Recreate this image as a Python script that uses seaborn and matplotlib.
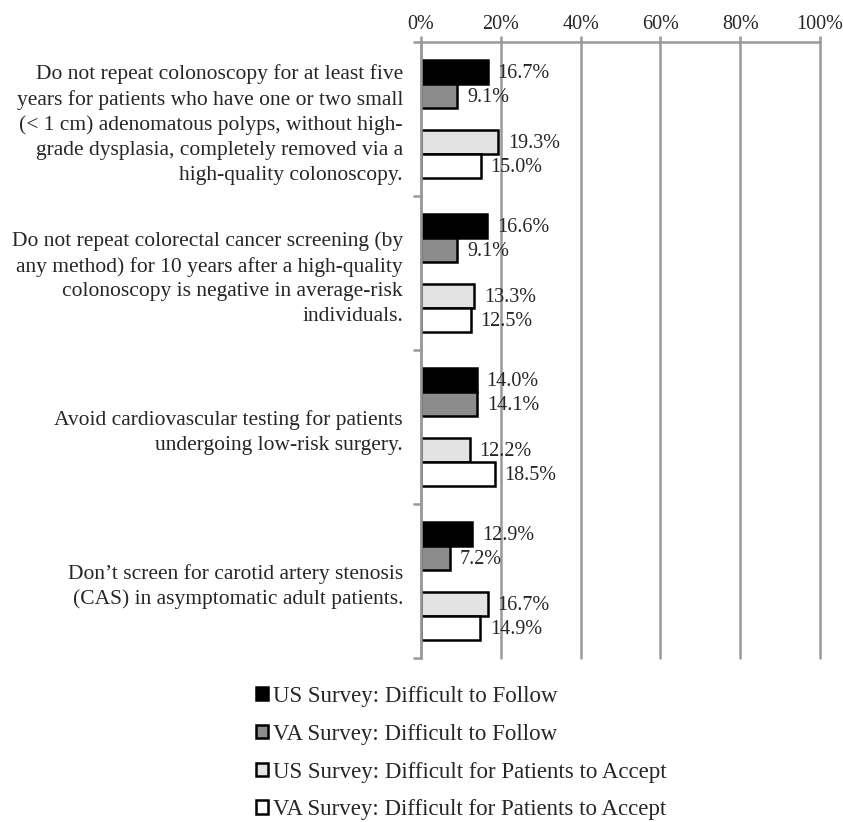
import pandas as pd
import numpy as np
import matplotlib.pyplot as plt
import matplotlib.ticker as mticker
import seaborn as sns

# Data
recommendations = [
    "Do not repeat colonoscopy for at least five\nyears for patients who have one or two small\n"
    "(< 1 cm) adenomatous polyps, without high-\ngrade dysplasia, completely removed via a\n"
    "high-quality colonoscopy.",
    "Do not repeat colorectal cancer screening (by\nany method) for 10 years after a high-quality\n"
    "colonoscopy is negative in average-risk\nindividuals.",
    "Avoid cardiovascular testing for patients\nundergoing low-risk surgery.",
    "Don\u2019t screen for carotid artery stenosis\n(CAS) in asymptomatic adult patients.",
]
series = [
    "US Survey: Difficult to Follow",
    "VA Survey: Difficult to Follow",
    "US Survey: Difficult for Patients to Accept",
    "VA Survey: Difficult for Patients to Accept",
]
us_follow = [16.7, 16.6, 14.0, 12.9]
va_follow = [9.1, 9.1, 14.1, 7.2]
us_accept = [19.3, 13.3, 12.2, 16.7]
va_accept = [15.0, 12.5, 18.5, 14.9]

colors = ["#000000", "#8c8c8c", "#e3e3e3", "#ffffff"]
# bar offsets inside each group (two touching pairs with a gap between)
offsets = [0.195, 0.35, 0.65, 0.805]

rows = []
for s, vals, off in zip(series, [us_follow, va_follow, us_accept, va_accept], offsets):
    for g, v in enumerate(vals):
        rows.append({"series": s, "value": v, "pos": g + off, "group": g})
df = pd.DataFrame(rows)

sns.set_style("white")
plt.rcParams['font.family'] = ['Liberation Serif', 'DejaVu Serif']
plt.rcParams['font.size'] = 14

fig = plt.figure(figsize=(8.43, 8.22), dpi=100)
ax = fig.add_axes([0.4994, 0.1995, 0.4733, 0.7494])

sns.barplot(data=df, x="value", y="pos", hue="series", hue_order=series,
            orient="h", native_scale=True, dodge=False, width=1.0,
            palette=colors, edgecolor="black", linewidth=1.8,
            errorbar=None, ax=ax)

ax.set_xlim(0, 100)
ax.set_ylim(4, 0)
ax.xaxis.set_major_locator(mticker.MultipleLocator(20))
ax.xaxis.set_major_formatter(mticker.FuncFormatter(lambda v, p: f"{v:.0f}%"))
ax.xaxis.tick_top()
ax.tick_params(axis="x", top=True, bottom=False, direction="out", length=4,
               width=1.8, color="#999999", pad=2, labelsize=14.5)
ax.grid(axis="x", color="#999999", linewidth=1.8)
ax.set_axisbelow(True)
for gl in ax.get_xgridlines():
    gl.set_clip_on(False)

ax.set_yticks(np.arange(len(recommendations)) + 0.5)
ax.set_yticklabels(recommendations, ha="right", linespacing=1.4)
ax.set_yticks(np.arange(len(recommendations) + 1), minor=True)
ax.tick_params(axis="y", which="major", length=0, pad=13, labelsize=15.5)
ax.tick_params(axis="y", which="minor", left=True, length=6, width=1.8,
               color="#999999", direction="out")
ax.set_xlabel("")
ax.set_ylabel("")

for side in ["bottom", "right"]:
    ax.spines[side].set_visible(False)
for side in ["top", "left"]:
    ax.spines[side].set_color("#999999")
    ax.spines[side].set_linewidth(1.8)

# value labels
for _, r in df.iterrows():
    ax.annotate(f"{r['value']:.1f}%", (r["value"], r["pos"]), xytext=(7, -1),
                textcoords="offset points", ha="left", va="center", fontsize=14.5)

sns.move_legend(ax, "upper left", bbox_to_anchor=(0.279, 0.191),
                bbox_transform=fig.transFigure, frameon=False, title=None,
                handlelength=0.55, handleheight=0.55, handletextpad=0.2,
                labelspacing=0.74, fontsize=16.5)

fig.savefig("out.png", dpi=100)
